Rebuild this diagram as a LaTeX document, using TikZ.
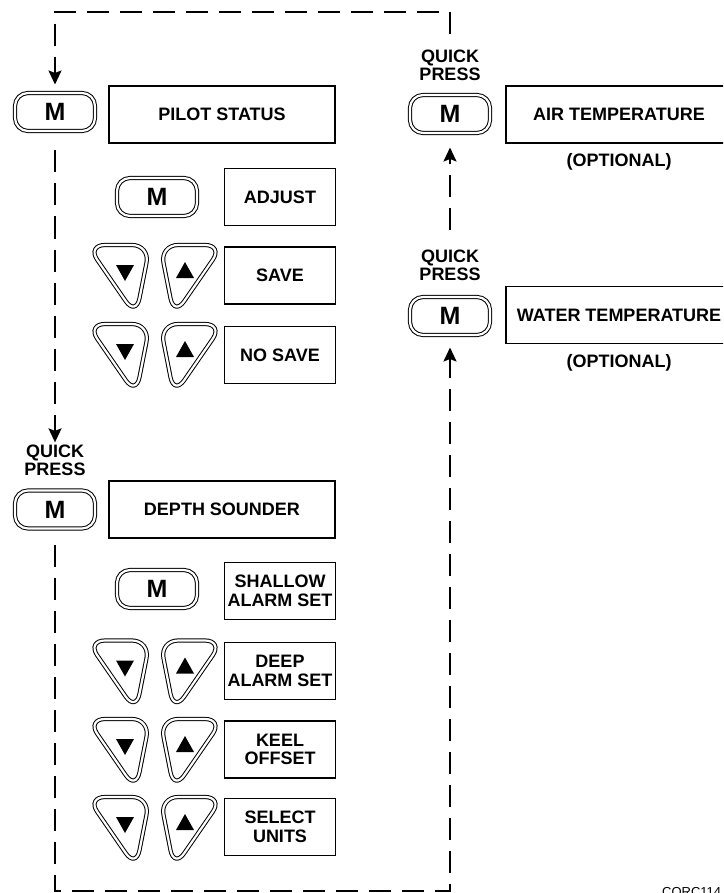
\documentclass[tikz,border=0pt]{standalone}
\usepackage{fontspec}
\setmainfont{Liberation Sans}
\usetikzlibrary{arrows.meta,positioning}

\begin{document}
\begin{tikzpicture}[
    x=1pt, y=-1pt,
    every node/.style={font=\bfseries\fontsize{18}{18.5}\selectfont},
    mkey/.style={draw,double,double distance=2.2pt,line width=1pt,
      rounded corners=13pt,minimum width=80pt,minimum height=38pt,
      inner sep=0pt,font=\bfseries\fontsize{25}{25}\selectfont},
    wide/.style={draw,line width=1.5pt,minimum width=226pt,minimum height=57pt,inner sep=0pt},
    small/.style={draw,line width=1.5pt,minimum width=111pt,minimum height=57pt,
      inner sep=0pt,align=center},
    hint/.style={align=center,inner sep=0pt},
    flow/.style={line width=1.8pt,dash pattern=on 22pt off 11pt},
    tip/.style={-{Stealth[length=14pt,width=13pt,inset=2.5pt]}},
    keyline/.style={double,double distance=2.2pt,line width=1pt,rounded corners=18pt},
    dnkey/.pic={
      \draw[keyline] (-33,-31) -- (30,-31) -- (16,40) -- cycle;
      \fill (-4,-11) -- (14,-11) -- (5,5) -- cycle;
    },
    upkey/.pic={
      \draw[keyline] (-30,-31) -- (33,-31) -- (-16,40) -- cycle;
      \fill (-5,-14) -- (4,2) -- (-14,2) -- cycle;
    }
  ]
  \useasboundingbox (0,0) rectangle (723,893);
  \clip (0,0) rectangle (723,893);

  \node[mkey] (mpilot) at (55,112) {M};
  \node[wide] (pilot) at (222,114.5) {PILOT STATUS};
  \node[mkey] (madjust) at (157,197) {M};
  \node[small] (adjust) at (280,197) {ADJUST};
  \foreach \y in {276,355,671.5,750,828} {
    \pic at (120,\y) {dnkey};
    \pic at (190,\y) {upkey};
  }
  \node[small] (save) at (280,275.5) {SAVE};
  \node[small] (nosave) at (280,355) {NO SAVE};

  \node[hint,anchor=south] (qdepth) at (55,476) {QUICK\\PRESS};
  \node[mkey] (mdepth) at (55,509.5) {M};
  \node[wide] (depth) at (222,509.5) {DEPTH SOUNDER};
  \node[mkey] (mshallow) at (157,589) {M};
  \node[small] (shallow) at (280,591) {SHALLOW\\ALARM SET};
  \node[small] (deep) at (280,671) {DEEP\\ALARM SET};
  \node[small] (keel) at (280,749.5) {KEEL\\OFFSET};
  \node[small] (units) at (280,827) {SELECT\\UNITS};

  \node[hint,anchor=south] (qair) at (450,81) {QUICK\\PRESS};
  \node[mkey] (mair) at (450,114) {M};
  \node[wide] (air) at (619,114.5) {AIR TEMPERATURE};
  \node[hint,anchor=base] (optair) at (619,167) {(OPTIONAL)};
  \node[hint,anchor=south] (qwater) at (450,281) {QUICK\\PRESS};
  \node[mkey] (mwater) at (450,316) {M};
  \node[wide] (water) at (619,315) {WATER TEMPERATURE};
  \node[hint,anchor=base] (optwater) at (619,367) {(OPTIONAL)};

  \coordinate (tl) at (55,12);
  \coordinate (tr) at (450,12);
  \coordinate (bl) at (55,891);
  \coordinate (br) at (450,891);

  \draw[flow,tip,shorten <=15pt,shorten >=8pt] (qair.north) -- (tr) -- (tl) -- (mpilot.north);
  \draw[flow,tip,shorten <=19pt,shorten >=2pt] (mpilot.south) -- (qdepth.north);
  \draw[flow,tip,shorten <=16pt,shorten >=12pt] (mdepth.south) -- (bl) -- (br) -- (mwater.south);
  \draw[flow,tip,shorten <=19pt,shorten >=14pt] (qwater.north) -- (mair.south);

  \node[font=\fontsize{13}{13}\selectfont,anchor=base west,inner sep=0pt] (code) at (662,896) {CORC114};
\end{tikzpicture}
\end{document}
